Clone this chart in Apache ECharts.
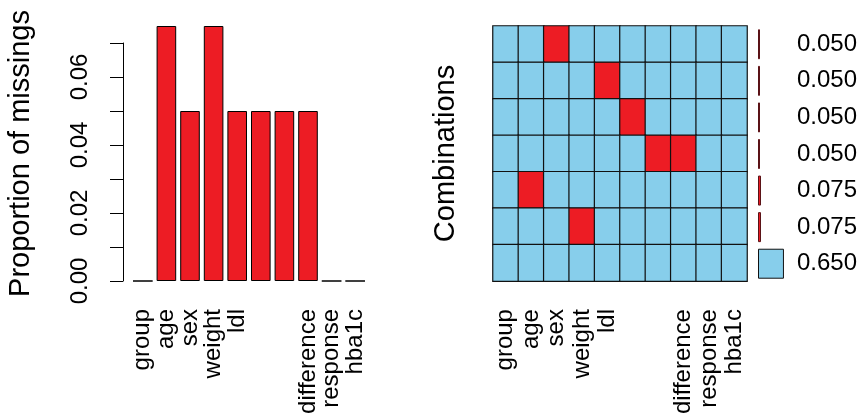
<!DOCTYPE html>
<html>
<head>
<meta charset="utf-8">
<script src="https://cdn.jsdelivr.net/npm/echarts@6/dist/echarts.min.js"></script>
<style>
html,body{margin:0;padding:0;background:#fff;}
#chart{width:860px;height:417px;}
</style>
</head>
<body>
<div id="chart"></div>
<script>
// ---- data ----
var variables = ['group','age','sex','weight','ldl','v6','v7','difference','response','hba1c'];
var tickLabels = ['group','age','sex','weight','ldl','','','difference','response','hba1c'];
var missingProp = [0, 0.075, 0.05, 0.075, 0.05, 0.05, 0.05, 0.05, 0, 0];
var yTicks = [0, 0.01, 0.02, 0.03, 0.04, 0.05, 0.06, 0.07];
// combinations: 1 = missing, 0 = observed (rows top to bottom)
var comboRow1 = [0,0,1,0,0,0,0,0,0,0];
var comboRow2 = [0,0,0,0,1,0,0,0,0,0];
var comboRow3 = [0,0,0,0,0,1,0,0,0,0];
var comboRow4 = [0,0,0,0,0,0,1,1,0,0];
var comboRow5 = [0,1,0,0,0,0,0,0,0,0];
var comboRow6 = [0,0,0,1,0,0,0,0,0,0];
var comboRow7 = [0,0,0,0,0,0,0,0,0,0];
var comboRows = [comboRow1, comboRow2, comboRow3, comboRow4, comboRow5, comboRow6, comboRow7];
var comboProp = [0.050, 0.050, 0.050, 0.050, 0.075, 0.075, 0.650];

// ---- styles ----
var RED = '#ED1C24';
var BLUE = '#87CEEB';
var FONT = 'Liberation Sans';

var rowIdx = comboProp.map(function(_, i){ return i; });
var heatData = [];
comboRows.forEach(function(row, r){
  row.forEach(function(v, c){ heatData.push([c, r, v]); });
});
var comboBarData = comboProp.map(function(p){
  return { value: p, itemStyle: p > 0.5
    ? { color: BLUE, borderColor: '#111' }
    : { color: RED, borderColor: '#5a1216' } };
});

var chart = echarts.init(document.getElementById('chart'), null, {renderer:'canvas'});
chart.setOption({
  animation: false,
  backgroundColor: '#fff',
  textStyle: { fontFamily: FONT, color: '#000' },
  grid: [
    { left: 131, top: 26, width: 236, height: 255 },
    { left: 123, top: 43, width: 10, height: 238 },
    { left: 493, top: 26, width: 254, height: 256 },
    { left: 758, top: 26, width: 26, height: 256 }
  ],
  xAxis: [
    { gridIndex: 0, type: 'category', data: variables,
      axisLine: {show:false}, axisTick: {show:false},
      axisLabel: { interval: 0, rotate: 90, margin: 28, fontSize: 24, fontFamily: FONT, color: '#000',
        padding: [8,0,0,0],
        formatter: function(v, i){ return tickLabels[i]; } } },
    { gridIndex: 1, type: 'value', show: false },
    { gridIndex: 2, type: 'category', data: variables,
      axisLine: {show:false}, axisTick: {show:false}, splitLine:{show:false},
      axisLabel: { interval: 0, rotate: 90, margin: 28, fontSize: 24, fontFamily: FONT, color: '#000',
        padding: [6,0,0,0],
        formatter: function(v, i){ return tickLabels[i]; } } },
    { gridIndex: 3, type: 'value', min: 0, max: 0.65, show: false }
  ],
  yAxis: [
    { gridIndex: 0, type: 'value', min: 0, max: 0.075,
      axisLine:{show:false}, axisTick:{show:false}, axisLabel:{show:false}, splitLine:{show:false},
      name: 'Proportion of missings', nameLocation: 'middle', nameGap: 96,
      nameTextStyle: { fontSize: 29, fontFamily: FONT, color: '#000' } },
    { gridIndex: 1, type: 'value', min: yTicks[0], max: yTicks[yTicks.length-1], interval: 0.01,
      axisLine:{show:true, lineStyle:{color:'#000', width:1}},
      axisTick:{show:true, length:13, lineStyle:{color:'#000', width:1}},
      splitLine:{show:false},
      axisLabel:{ rotate: 90, margin: 31, fontSize: 24, fontFamily: FONT, color:'#000',
        formatter: function(v){ var k = Math.round(v*100); return k % 2 === 0 ? v.toFixed(2) : ''; } } },
    { gridIndex: 2, type: 'category', data: rowIdx, inverse: true,
      axisLine:{show:false}, axisTick:{show:false}, axisLabel:{show:false}, splitLine:{show:false},
      name: 'Combinations', nameLocation: 'middle', nameGap: 33,
      nameTextStyle: { fontSize: 29, fontFamily: FONT, color: '#000' } },
    { gridIndex: 3, type: 'category', data: rowIdx, inverse: true, position: 'right',
      axisLine:{show:false}, axisTick:{show:false}, splitLine:{show:false},
      axisLabel:{ margin: 13, fontSize: 24, fontFamily: FONT, color:'#000',
        formatter: function(v, i){ return comboProp[i].toFixed(3); } } }
  ],
  visualMap: {
    show: false, type: 'piecewise', seriesIndex: 1, dimension: 2,
    pieces: [ { value: 0, color: BLUE }, { value: 1, color: RED } ]
  },
  series: [
    { type: 'bar', xAxisIndex: 0, yAxisIndex: 0, data: missingProp,
      barCategoryGap: '17%',
      itemStyle: { color: RED, borderColor: '#000', borderWidth: 1 } },
    { type: 'heatmap', xAxisIndex: 2, yAxisIndex: 2, data: heatData,
      itemStyle: { borderColor: '#111', borderWidth: 1.2 } },
    { type: 'bar', xAxisIndex: 3, yAxisIndex: 3, data: comboBarData,
      barCategoryGap: '18%',
      itemStyle: { borderWidth: 1 } }
  ]
});
</script>
</body>
</html>
